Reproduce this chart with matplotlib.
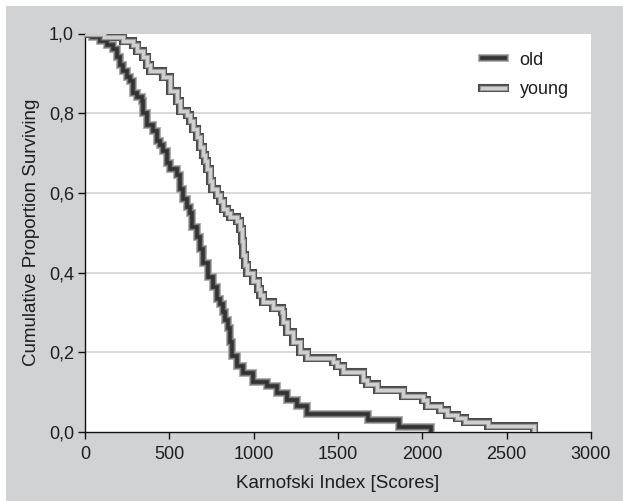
import matplotlib
matplotlib.use("Agg")
import matplotlib.pyplot as plt
import matplotlib.patheffects as pe
from matplotlib.patches import Rectangle

plt.rcParams['font.family'] = ['Liberation Sans', 'DejaVu Sans']

# Step data (time, survival after step)
old_t = [0, 40, 89, 130, 168, 188, 210, 227, 250, 267, 286, 310, 336, 346, 366, 405,
         425, 445, 464, 484, 504, 543, 563, 583, 603, 622, 632, 662, 682, 701, 731,
         761, 781, 800, 820, 830, 850, 860, 870, 899, 939, 998, 1077, 1136, 1196,
         1255, 1314, 1680, 1860, 2050]
old_s = [1.0, 0.99, 0.98, 0.97, 0.96, 0.94, 0.92, 0.905, 0.89, 0.88, 0.85, 0.84, 0.83,
         0.80, 0.77, 0.755, 0.73, 0.72, 0.705, 0.675, 0.66, 0.645, 0.61, 0.585, 0.565,
         0.55, 0.515, 0.49, 0.46, 0.425, 0.39, 0.365, 0.335, 0.32, 0.30, 0.28, 0.26,
         0.225, 0.19, 0.165, 0.148, 0.125, 0.115, 0.098, 0.08, 0.065, 0.045, 0.03,
         0.013, 0.0]

young_t = [0, 110, 227, 286, 306, 346, 366, 385, 464, 504, 543, 563, 603, 622, 642, 662,
           682, 701, 711, 721, 741, 751, 781, 800, 820, 840, 860, 899, 919, 929, 939,
           949, 959, 998, 1028, 1038, 1057, 1116, 1166, 1176, 1196, 1235, 1275, 1314,
           1472, 1492, 1531, 1650, 1670, 1729, 1887, 2006, 2026, 2104, 2144, 2203,
           2253, 2390, 2660]
young_s = [1.0, 0.99, 0.98, 0.97, 0.955, 0.94, 0.92, 0.905, 0.89, 0.855, 0.83, 0.805,
           0.795, 0.78, 0.76, 0.74, 0.715, 0.695, 0.68, 0.66, 0.63, 0.61, 0.595, 0.58,
           0.56, 0.55, 0.54, 0.53, 0.51, 0.48, 0.445, 0.42, 0.40, 0.38, 0.36, 0.345,
           0.325, 0.31, 0.30, 0.275, 0.25, 0.225, 0.20, 0.185, 0.175, 0.165, 0.15,
           0.13, 0.12, 0.105, 0.09, 0.08, 0.065, 0.055, 0.043, 0.035, 0.026, 0.015, 0.0]

x_ticks = [0, 500, 1000, 1500, 2000, 2500, 3000]
y_ticks = [0.0, 0.2, 0.4, 0.6, 0.8, 1.0]
y_tick_labels = ["0,0", "0,2", "0,4", "0,6", "0,8", "1,0"]

W, H = 623, 501
fig = plt.figure(figsize=(W / 100, H / 100), dpi=100)
fig.patch.set_facecolor('white')
fig.patches.append(Rectangle((6 / W, 0), 1 - 6 / W, 1 - 6 / H, transform=fig.transFigure,
                             facecolor='#d1d2d4', edgecolor='none', zorder=-10))

left, right, top, bottom = 85, 591, 33.5, 432
ax = fig.add_axes([left / W, 1 - bottom / H, (right - left) / W, (bottom - top) / H])
ax.set_facecolor('white')
ax.set_xlim(0, 3000)
ax.set_ylim(0, 1.0)

for y in y_ticks[1:-1]:
    ax.axhline(y, color='#d3d3d3', lw=1.2, zorder=1)

old_line, = ax.plot(old_t, old_s, drawstyle='steps-post', color='#333333', lw=2.6,
                    solid_joinstyle='miter', zorder=3, label='old',
                    path_effects=[pe.Stroke(linewidth=5.8, foreground='#b5b5b5'),
                                  pe.Stroke(linewidth=4.4, foreground='#7a7a7a'),
                                  pe.Normal()])
young_line, = ax.plot(young_t, young_s, drawstyle='steps-post', color='#cfcfcf', lw=2.2,
                      solid_joinstyle='miter', zorder=3, label='young',
                      path_effects=[pe.Stroke(linewidth=5.8, foreground='#4a4a4a'),
                                    pe.Stroke(linewidth=3.8, foreground='#9a9a9a'),
                                    pe.Normal()])

for s in ['top', 'right']:
    ax.spines[s].set_visible(False)
for s in ['left', 'bottom']:
    ax.spines[s].set_color('#111111')
    ax.spines[s].set_linewidth(1.0)

ax.set_xticks(x_ticks)
ax.set_xticklabels([str(v) for v in x_ticks])
ax.set_yticks(y_ticks)
ax.set_yticklabels(y_tick_labels)
ax.tick_params(direction='out', length=5, width=1, color='#111111', labelsize=13,
               labelcolor='#1e1e1e')
ax.tick_params(axis='x', pad=5)
ax.tick_params(axis='y', pad=3)

ax.set_xlabel('Karnofski Index [Scores]', fontsize=13.5, color='#1e1e1e', labelpad=9)
ax.set_ylabel('Cumulative Proportion Surviving', fontsize=13.5, color='#1e1e1e', labelpad=6)

leg = ax.legend(loc='upper right', bbox_to_anchor=(0.988, 0.995), frameon=False,
                fontsize=13, handlelength=1.3, handletextpad=0.78, labelspacing=0.68)
for txt in leg.get_texts():
    txt.set_color('#1e1e1e')

fig.savefig('out.png', dpi=100, facecolor=fig.get_facecolor())
